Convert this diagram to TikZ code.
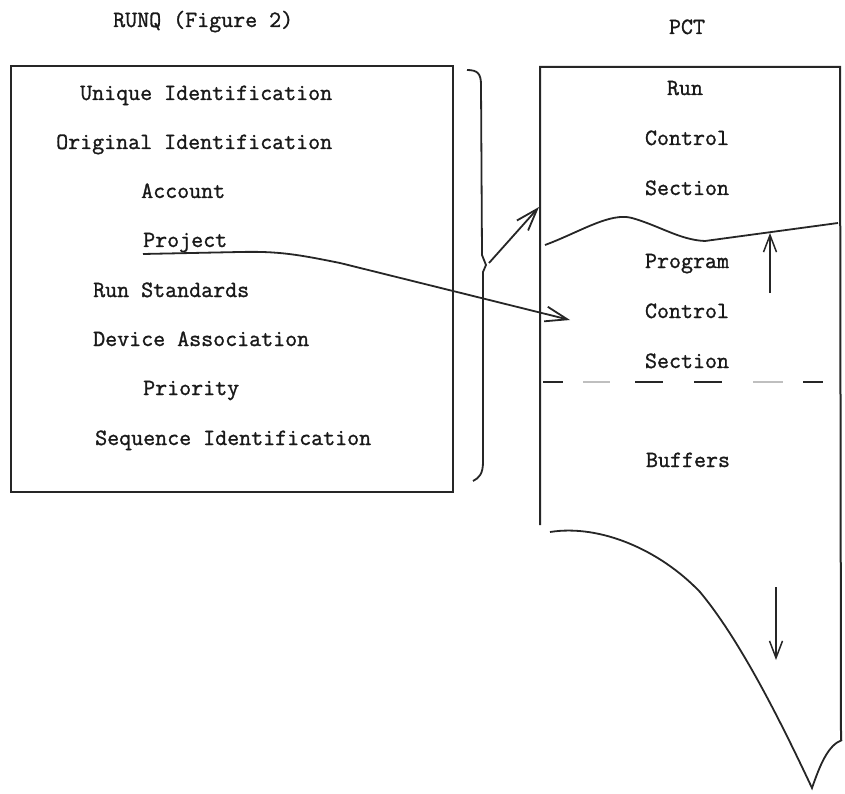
\documentclass[tikz,border=0pt]{standalone}
\usepackage{fontspec}
\newfontfamily\twfont[FakeBold=1.2]{Latin Modern Mono}
\usetikzlibrary{arrows.meta}
\begin{document}
\begin{tikzpicture}[x=1pt,y=-1pt,
  txt/.style={font=\twfont\fontsize{23.3pt}{28pt}\selectfont, inner sep=0pt, text=black!90},
  lft/.style={txt, anchor=base west},
  ctr/.style={txt, anchor=base},
  ln/.style={line width=2pt, draw=black!85},
  barb/.style={-{Straight Barb[length=22pt,width=15pt,line width=1.8pt]}},
  sbarb/.style={-{Straight Barb[length=17pt,width=13pt,line width=1.5pt]}}]
\useasboundingbox (0,0) rectangle (845,794);
% titles
\node[lft] (runqtitle) at (113,27) {RUNQ (Figure 2)};
\node[ctr] (pcttitle) at (687,34) {PCT};
% RUNQ box
\node[ln, draw, anchor=north west, minimum width=442pt, minimum height=426pt, inner sep=0pt] (runq) at (10,65) {};
\node[lft] (uid) at (80,100) {Unique Identification};
\node[lft] (oid) at (56,149) {Original Identification};
\node[lft] (acc) at (141,198) {Account};
\node[lft] (proj) at (143,247) {Project};
\node[lft] (rstd) at (93,297) {Run Standards};
\node[lft] (dev) at (93,346) {Device Association};
\node[lft] (prio) at (143,395) {Priority};
\node[lft] (seq) at (95,445) {Sequence Identification};
% brace
\coordinate (bracetip) at (489,263);
\draw[ln, line width=1.8pt] (467,70) .. controls (478,70) and (481,74) .. (481,85) -- (482,255) -- (486,265) -- (483,272) -- (483,462) .. controls (483,474) and (479,478) .. (473,481);
% PCT outline
\coordinate (pctleft) at (539,207);
\draw[ln] (540,525) -- (540,67) -- (840,67) -- (841,740);
\draw[ln, line width=1.8pt] (550,532) .. controls (600,524) and (660,550) .. (700,592) .. controls (740,640) and (780,720) .. (812,788) .. controls (820,765) and (828,745) .. (842,740);
% wavy divider
\draw[ln, line width=1.8pt] (545,245) .. controls (580,232) and (610,212) .. (632,218) .. controls (660,226) and (680,240) .. (705,241) -- (838,223);
% dashed divider
\foreach \a/\b/\c in {543/563/85,583/610/25,635/663/85,694/722/85,753/783/25,803/823/85}
  \draw[line width=2pt, draw=black!\c] (\a,382) -- (\b,382);
% PCT texts
\node[ctr] (run) at (685,95) {Run};
\node[ctr] (rc) at (687,145) {Control};
\node[ctr] (rs) at (687,195) {Section};
\node[ctr] (pg) at (687,268) {Program};
\node[ctr] (pc) at (687,318) {Control};
\node[ctr] (ps) at (687,368) {Section};
\node[ctr] (buf) at (688,467) {Buffers};
% arrows
\draw[ln, line width=1.8pt, barb] (bracetip) -- (pctleft);
\coordinate (projend) at (570,320);
\draw[ln, line width=1.8pt, barb] ([yshift=-7pt]proj.base west) -- (240,252) .. controls (280,251) and (300,255) .. (340,263) -- (projend);
\coordinate (upa) at (770,293);
\coordinate (upb) at (770,233);
\draw[ln, line width=1.5pt, sbarb] (upa) -- (upb);
\coordinate (dna) at (776,587);
\coordinate (dnb) at (776,660);
\draw[ln, line width=1.5pt, sbarb] (dna) -- (dnb);
\end{tikzpicture}
\end{document}
